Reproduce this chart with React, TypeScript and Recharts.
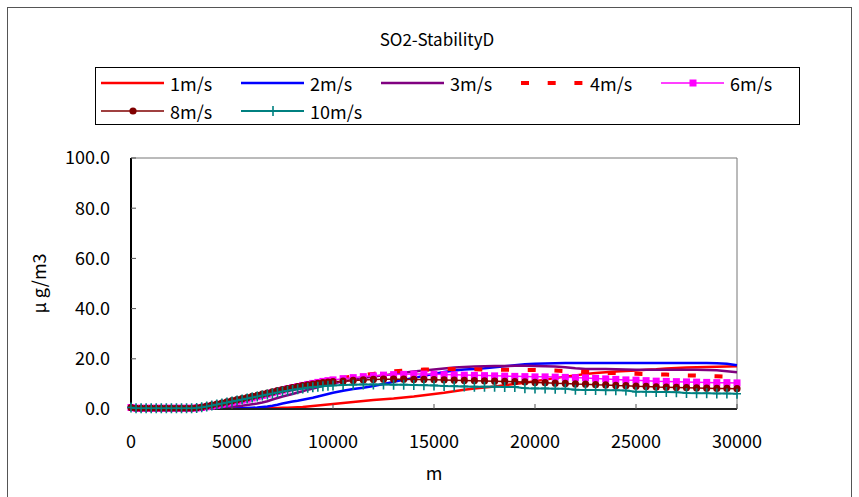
import React from 'react';
import { LineChart, Line, XAxis, YAxis, Legend, ReferenceArea } from 'recharts';

const distances = [
  0, 250, 500, 750, 1000, 1250, 1500, 1750, 2000, 2250, 2500, 2750, 3000,
  3250, 3500, 3750, 4000, 4250, 4500, 4750, 5000,
  5250, 5500, 5750, 6000, 6250, 6500, 6750, 7000, 7250, 7500,
  7750, 8000, 8250, 8500, 8750, 9000, 9250, 9500, 9750, 10000,
  10500, 11000, 11500, 12000, 12500, 13000, 13500, 14000, 14500, 15000,
  15500, 16000, 16500, 17000, 17500, 18000, 18500, 19000, 19500, 20000,
  20500, 21000, 21500, 22000, 22500, 23000, 23500, 24000, 24500, 25000,
  25500, 26000, 26500, 27000, 27500, 28000, 28500, 29000, 29500, 30000,
];

const s1ms = [
  0.3, 0.2, 0.2, 0.2, 0.2, 0.2, 0.2, 0.2, 0.2, 0.2, 0.2, 0.2, 0.2,
  0.1, 0.1, 0.1, 0.1, 0.1, 0.1, 0.1, 0.1,
  0.1, 0.1, 0.2, 0.2, 0.2, 0.3, 0.3, 0.4, 0.4, 0.5,
  0.5, 0.6, 0.7, 0.8, 1.0, 1.2, 1.4, 1.6, 1.8, 2.0,
  2.4, 2.8, 3.2, 3.6, 3.9, 4.2, 4.6, 5.0, 5.5, 6.0,
  6.5, 7.1, 7.7, 8.2, 8.6, 9.0, 9.5, 10.0, 10.5, 11.1,
  11.7, 12.3, 12.9, 13.4, 13.9, 14.3, 14.6, 14.9, 15.1, 15.3,
  15.6, 15.8, 16.1, 16.3, 16.5, 16.6, 16.7, 16.8, 16.9, 17.0,
];

const s2ms = [
  0.4, 0.2, 0.2, 0.2, 0.2, 0.2, 0.2, 0.2, 0.2, 0.2, 0.2, 0.2, 0.2,
  0.2, 0.2, 0.2, 0.2, 0.2, 0.2, 0.2, 0.2,
  0.3, 0.3, 0.4, 0.5, 0.6, 0.8, 1.0, 1.3, 1.7, 2.2,
  2.6, 3.0, 3.3, 3.7, 4.1, 4.5, 5.0, 5.5, 6.0, 6.5,
  7.3, 8.0, 8.5, 9.2, 10.0, 10.8, 11.6, 12.4, 13.2, 14.0,
  14.7, 15.3, 15.7, 15.9, 16.2, 16.6, 17.0, 17.4, 17.8, 18.0,
  18.1, 18.2, 18.3, 18.3, 18.3, 18.3, 18.3, 18.3, 18.3, 18.3,
  18.3, 18.3, 18.3, 18.3, 18.3, 18.3, 18.3, 18.2, 18.0, 17.4,
];

const s3ms = [
  0.5, 0.3, 0.3, 0.3, 0.3, 0.3, 0.3, 0.3, 0.3, 0.3, 0.3, 0.3, 0.3,
  0.3, 0.3, 0.3, 0.4, 0.5, 0.6, 0.7, 0.9,
  1.1, 1.3, 1.6, 1.9, 2.2, 2.6, 3.1, 3.8, 4.4, 5.0,
  5.5, 6.0, 6.6, 7.1, 7.7, 8.2, 8.7, 9.2, 9.7, 10.1,
  11.0, 11.7, 12.3, 12.9, 13.4, 13.9, 14.4, 14.9, 15.3, 15.7,
  16.1, 16.5, 16.7, 16.9, 17.0, 17.1, 17.1, 17.2, 17.2, 17.1,
  17.0, 16.9, 16.6, 16.2, 15.9, 15.9, 15.9, 15.8, 15.7, 15.6,
  15.6, 15.6, 15.6, 15.6, 15.6, 15.6, 15.5, 15.4, 15.0, 14.6,
];

const s4ms = [
  0.5, 0.3, 0.3, 0.3, 0.3, 0.3, 0.3, 0.3, 0.3, 0.3, 0.3, 0.3, 0.3,
  0.4, 0.6, 0.8, 1.1, 1.4, 1.8, 2.2, 2.6,
  3.0, 3.4, 3.8, 4.2, 4.7, 5.2, 5.7, 6.2, 6.8, 7.3,
  7.9, 8.4, 8.9, 9.4, 9.9, 10.3, 10.7, 11.1, 11.5, 11.8,
  12.4, 13.0, 13.5, 14.0, 14.5, 15.0, 15.3, 15.5, 15.7, 15.8,
  15.9, 15.9, 15.8, 15.8, 15.7, 15.7, 15.6, 15.6, 15.5, 15.5,
  15.4, 15.3, 15.1, 15.0, 14.8, 14.6, 14.4, 14.3, 14.1, 14.0,
  13.9, 13.8, 13.7, 13.6, 13.4, 13.3, 13.1, 13.0, 12.9, 12.8,
];

const s6ms = [
  0.6, 0.3, 0.3, 0.3, 0.3, 0.3, 0.3, 0.3, 0.3, 0.3, 0.3, 0.3, 0.3,
  0.4, 0.6, 0.9, 1.2, 1.5, 1.9, 2.3, 2.7,
  3.1, 3.5, 3.9, 4.4, 4.9, 5.4, 5.9, 6.5, 7.0, 7.5,
  8.0, 8.5, 8.9, 9.4, 9.8, 10.2, 10.6, 11.0, 11.3, 11.6,
  12.1, 12.5, 12.9, 13.2, 13.5, 13.7, 13.8, 13.9, 13.9, 13.8,
  13.7, 13.6, 13.5, 13.4, 13.3, 13.2, 13.1, 13.0, 12.9, 12.8,
  12.8, 12.7, 12.6, 12.5, 12.4, 12.2, 12.0, 11.8, 11.6, 11.5,
  11.3, 11.1, 11.0, 10.9, 10.8, 10.7, 10.6, 10.5, 10.5, 10.4,
];

const s8ms = [
  0.6, 0.3, 0.3, 0.3, 0.3, 0.3, 0.3, 0.3, 0.3, 0.3, 0.3, 0.3, 0.3,
  0.5, 0.8, 1.2, 1.6, 2.0, 2.4, 2.8, 3.3,
  3.7, 4.1, 4.5, 5.0, 5.4, 5.9, 6.3, 6.8, 7.3, 7.7,
  8.1, 8.5, 8.9, 9.3, 9.6, 9.9, 10.2, 10.5, 10.7, 10.9,
  11.1, 11.4, 11.6, 11.8, 11.9, 11.9, 11.9, 11.8, 11.8, 11.7,
  11.6, 11.5, 11.4, 11.3, 11.2, 11.1, 11.0, 10.9, 10.8, 10.6,
  10.5, 10.3, 10.2, 10.0, 9.9, 9.7, 9.6, 9.4, 9.3, 9.1,
  9.0, 8.8, 8.7, 8.6, 8.5, 8.4, 8.3, 8.2, 8.2, 8.1,
];

const s10ms = [
  0.6, 0.3, 0.3, 0.3, 0.3, 0.3, 0.3, 0.3, 0.3, 0.3, 0.3, 0.3, 0.3,
  0.4, 0.7, 1.0, 1.4, 1.8, 2.2, 2.6, 3.0,
  3.4, 3.8, 4.2, 4.6, 5.0, 5.4, 5.8, 6.2, 6.6, 7.0,
  7.3, 7.6, 7.9, 8.2, 8.5, 8.7, 8.9, 9.1, 9.3, 9.4,
  9.6, 9.7, 9.8, 9.8, 9.8, 9.7, 9.7, 9.6, 9.5, 9.4,
  9.2, 9.1, 9.0, 8.9, 8.9, 8.9, 8.8, 8.8, 8.3, 8.2,
  8.2, 8.1, 8.1, 7.7, 7.6, 7.6, 7.5, 7.5, 7.4, 6.9,
  6.9, 6.8, 6.8, 6.7, 6.4, 6.3, 6.3, 6.2, 6.2, 6.1,
];

const xTicks = [0, 5000, 10000, 15000, 20000, 25000, 30000];
const yTicks = [0, 20, 40, 60, 80, 100];

const FONT = '"Noto Sans CJK JP", "Noto Sans", sans-serif';

type Marker = 'none' | 'square' | 'circle' | 'plus';
type SeriesDef = { key: string; name: string; color: string; width: number; dash?: string; marker: Marker };

const series: SeriesDef[] = [
  { key: 's1', name: '1m/s', color: '#FF0000', width: 2.5, marker: 'none' },
  { key: 's2', name: '2m/s', color: '#0000FF', width: 2.5, marker: 'none' },
  { key: 's3', name: '3m/s', color: '#800080', width: 2.5, marker: 'none' },
  { key: 's4', name: '4m/s', color: '#FF0000', width: 4, dash: '8 18.7', marker: 'none' },
  { key: 's6', name: '6m/s', color: '#FF00FF', width: 1.5, marker: 'square' },
  { key: 's8', name: '8m/s', color: '#800000', width: 1.5, marker: 'circle' },
  { key: 's10', name: '10m/s', color: '#008080', width: 2, marker: 'plus' },
];

const values: Record<string, number[]> = {
  s1: s1ms, s2: s2ms, s3: s3ms, s4: s4ms, s6: s6ms, s8: s8ms, s10: s10ms,
};

const data = distances.map((x, i) => {
  const row: Record<string, number> = { x };
  series.forEach((s) => { row[s.key] = values[s.key][i]; });
  return row;
});

function markerShape(marker: Marker, color: string, cx: number, cy: number, key?: React.Key) {
  if (marker === 'square') {
    return <rect key={key} x={cx - 3.5} y={cy - 3.5} width={7} height={7} fill={color} stroke="none" />;
  }
  if (marker === 'circle') {
    return <circle key={key} cx={cx} cy={cy} r={3.6} fill={color} stroke="none" />;
  }
  if (marker === 'plus') {
    return (
      <path key={key} d={`M${cx - 4},${cy}H${cx + 4}M${cx},${cy - 5}V${cy + 5}`} stroke={color} strokeWidth={1.6} fill="none" />
    );
  }
  return <g key={key} />;
}

function makeDot(s: SeriesDef) {
  if (s.marker === 'none') return false;
  return (props: any) => {
    const { cx, cy, index } = props;
    if (cx == null || cy == null) return <g key={`d-${s.key}-${index}`} />;
    return markerShape(s.marker, s.color, cx, cy, `d-${s.key}-${index}`);
  };
}

const LegendBox = (props: any) => {
  const payload: any[] = props.payload || [];
  const ordered = series
    .map((s) => ({ s, entry: payload.find((p) => p.dataKey === s.key || p.value === s.name) }))
    .filter((o) => o.entry);
  return (
    <div
      style={{
        position: 'relative', width: 705, height: 58, border: '1px solid #000', boxSizing: 'border-box',
        background: '#fff', fontFamily: FONT, fontSize: 18, color: '#000',
      }}
    >
      {ordered.map(({ s, entry }, i) => {
        const col = i % 5;
        const row = Math.floor(i / 5);
        return (
          <div
            key={s.key}
            style={{ position: 'absolute', left: 5 + col * 140, top: 3 + row * 28, height: 24, display: 'flex', alignItems: 'center', whiteSpace: 'nowrap' }}
          >
            <svg width={64} height={20} style={{ display: 'block' }}>
              <line x1={0} y1={10} x2={63} y2={10} stroke={entry.color || s.color} strokeWidth={s.width} strokeDasharray={s.dash} />
              {s.marker !== 'none' && markerShape(s.marker, s.color, 32, 10)}
            </svg>
            <span style={{ marginLeft: 5, lineHeight: '20px' }}>{entry.value}</span>
          </div>
        );
      })}
    </div>
  );
};

export default function App() {
  return (
    <div style={{ position: 'absolute', left: 0, top: 0, width: 859, height: 497, background: '#fff', overflow: 'hidden' }}>
      <div style={{ position: 'absolute', left: 7, top: 7, width: 845, height: 520, border: '1px solid #555', boxSizing: 'border-box' }} />
      <div style={{ position: 'absolute', left: 337, top: 26, width: 200, textAlign: 'center', fontFamily: FONT, fontSize: 17, color: '#000' }}>
        SO2-StabilityD
      </div>
      <LineChart
        width={859}
        height={497}
        data={data}
        margin={{ top: 158, right: 122, bottom: 13, left: 31 }}
        style={{ position: 'absolute', left: 0, top: 0, fontFamily: FONT }}
      >
        <ReferenceArea x1={0} x2={30000} y1={0} y2={100} fill="none" stroke="#777" strokeWidth={1} ifOverflow="visible" />
        <XAxis
          dataKey="x"
          type="number"
          domain={[0, 30000]}
          ticks={xTicks}
          interval={0}
          tickSize={-5}
          tickMargin={31}
          height={75}
          axisLine={{ stroke: '#222', strokeWidth: 2 }}
          tickLine={{ stroke: '#555' }}
          tick={{ fill: '#000', fontSize: 18, fontFamily: FONT }}
          label={{ value: 'm', position: 'insideBottom', offset: 4, fill: '#000', fontSize: 18, fontFamily: FONT }}
        />
        <YAxis
          type="number"
          domain={[0, 100]}
          ticks={yTicks}
          interval={0}
          width={100}
          tickSize={-5}
          tickMargin={26}
          tickFormatter={(v: number) => v.toFixed(1)}
          axisLine={{ stroke: '#000', strokeWidth: 2 }}
          tickLine={{ stroke: '#555' }}
          tick={{ fill: '#000', fontSize: 18, fontFamily: FONT }}
          label={{ value: 'μ g/m3', angle: -90, position: 'insideLeft', offset: 9, fill: '#000', fontSize: 18, fontFamily: FONT, style: { textAnchor: 'middle' } }}
        />
        <Legend
          layout="horizontal"
          verticalAlign="middle"
          align="center"
          wrapperStyle={{ left: 95, top: 67, width: 705, height: 58 }}
          content={LegendBox}
        />
        {series.map((s) => (
          <Line
            key={s.key}
            type="linear"
            dataKey={s.key}
            name={s.name}
            stroke={s.color}
            strokeWidth={s.width}
            strokeDasharray={s.dash}
            dot={makeDot(s)}
            activeDot={false}
            legendType="line"
            isAnimationActive={false}
          />
        ))}
      </LineChart>
    </div>
  );
}
